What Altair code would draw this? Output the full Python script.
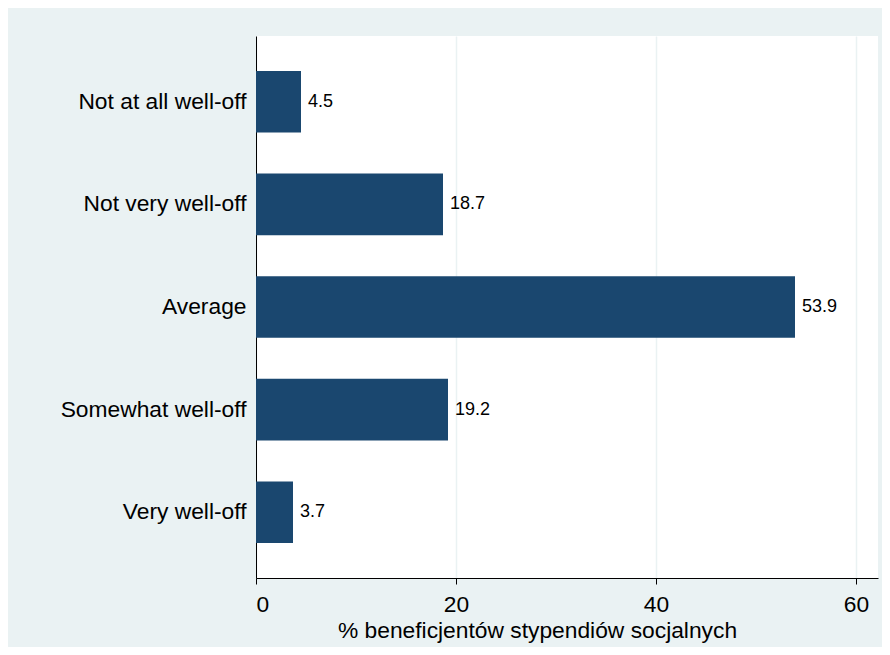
import altair as alt
import pandas as pd

categories = ["Not at all well-off", "Not very well-off", "Average", "Somewhat well-off", "Very well-off"]
values = [4.5, 18.7, 53.9, 19.2, 3.7]
labels = ["4.5", "18.7", "53.9", "19.2", "3.7"]
x_ticks = [0, 20, 40, 60]

df = pd.DataFrame({"cat": categories, "val": values, "lab": labels})

FONT = "Liberation Sans"
BAR = "#1A476F"
BG = "#EAF2F3"
FS = 22.8

y_enc = alt.Y("cat:N", sort=categories, title=None,
              scale=alt.Scale(paddingInner=0.4, paddingOuter=0.34),
              axis=alt.Axis(ticks=False, labelFontSize=FS, labelFont=FONT, labelColor="black",
                            labelPadding=10, labelLimit=400, domainColor="black", domainWidth=1,
                            grid=False))
x_enc = alt.X("val:Q", title="% beneficjentów stypendiów socjalnych",
              scale=alt.Scale(domain=[0, 62.2], nice=False, zero=True),
              axis=alt.Axis(values=x_ticks, labelFontSize=FS, labelFont=FONT, labelColor="black",
                            titleFontSize=FS, titleFont=FONT, titleColor="black", titleFontWeight="normal",
                            titlePadding=4, labelPadding=9, tickSize=6, tickColor="black",
                            titleX=281, titleAlign="center",
                            domainColor="black", grid=True, gridColor=BG, gridWidth=1.5))

bars = alt.Chart(df).mark_bar(color=BAR).encode(y=y_enc, x=x_enc)
text = alt.Chart(df).mark_text(align="left", baseline="middle", dx=7, fontSize=18,
                               font=FONT, color="black").encode(
    y=y_enc, x=x_enc, text="lab:N")

chart = (bars + text).properties(
    width=622, height=542,
    background=BG,
    padding={"left": 248, "top": 28, "right": 4, "bottom": 69},
    autosize=alt.AutoSizeParams(type="none"),
).configure_view(fill="white", stroke=None).configure_axis(
    labelFontSize=FS, labelFont=FONT, titleFontSize=FS, titleFont=FONT, labelLimit=400
)

chart.save("out.html", embed_options={"renderer": "svg", "actions": False})
